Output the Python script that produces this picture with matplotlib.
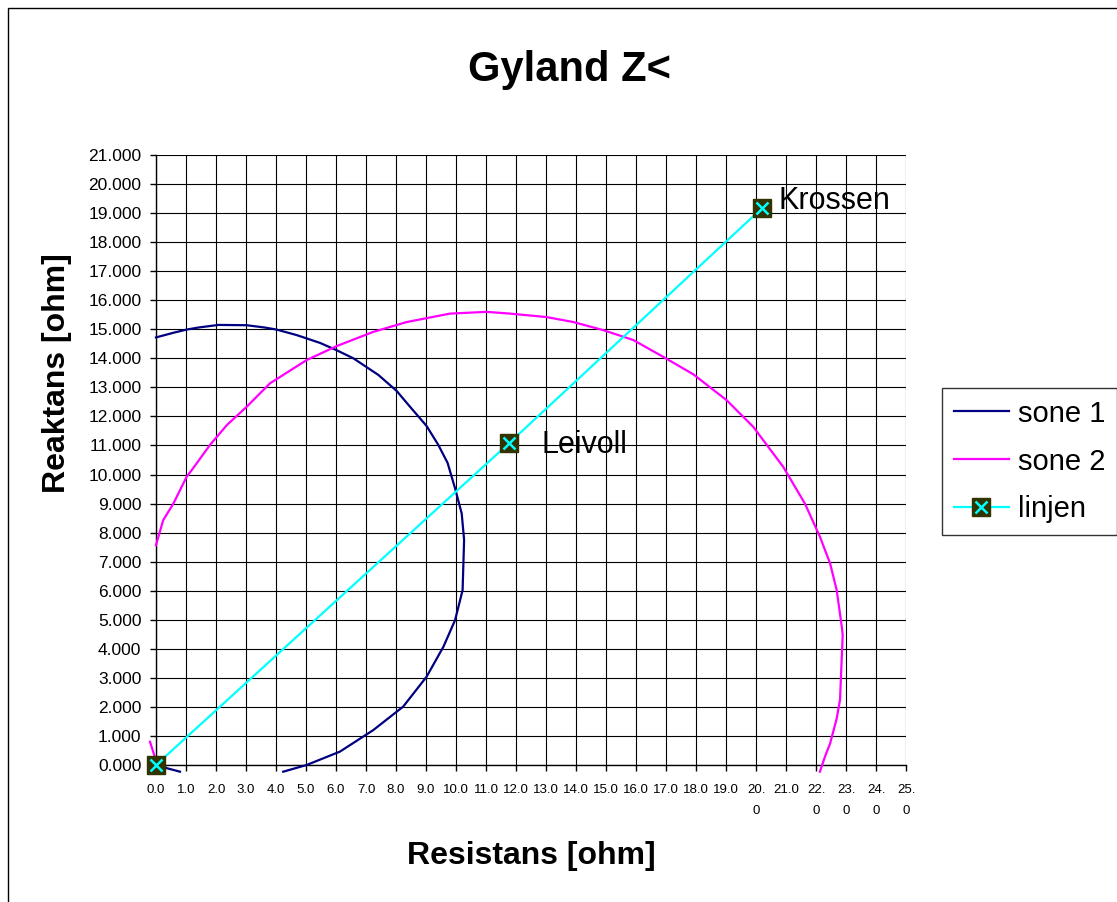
import numpy as np
import matplotlib
matplotlib.use("Agg")
import matplotlib.pyplot as plt
from matplotlib.patches import Rectangle

plt.rcParams['font.family'] = ['Liberation Sans', 'DejaVu Sans']

# ---------------- data ----------------
nan = np.nan
sone1_x = [0.0, 0.58, 1.02, 1.41, 2.08, 3.02, 3.63, 4.02, 4.69, 5.47, 6.02, 6.58,
           7.41, 8.02, 8.47, 9.02, 9.41, 9.72, 9.97, 10.19, 10.27, 10.22, 9.97,
           9.58, 9.02, 8.24, 7.24, 6.13, 5.02, 4.24, nan, 0.0, 0.36, 0.8]
sone1_y = [14.72, 14.88, 14.99, 15.06, 15.15, 15.14, 15.06, 14.99, 14.80, 14.53,
           14.28, 14.0, 13.43, 12.88, 12.33, 11.67, 11.02, 10.4, 9.52, 8.66, 7.75,
           6.02, 4.99, 4.07, 3.04, 2.01, 1.20, 0.46, 0.0, -0.23, nan, 0.12, -0.11, -0.23]

sone2_x = [0.0, 0.24, 0.58, 1.02, 1.19, 1.8, 2.36, 3.02, 3.8, 5.02, 6.02, 7.24,
           8.36, 9.8, 11.02, 11.8, 13.02, 13.91, 14.91, 15.91, 16.91, 17.91, 19.02,
           19.91, 20.91, 21.63, 22.13, 22.47, 22.69, 22.86, 22.89, 22.8, 22.69,
           22.47, 22.3, 22.13, nan, -0.2, 0.0]
sone2_y = [7.57, 8.43, 9.0, 9.92, 10.15, 11.02, 11.70, 12.33, 13.14, 13.94, 14.42,
           14.91, 15.25, 15.54, 15.60, 15.54, 15.42, 15.25, 14.97, 14.63, 14.05,
           13.45, 12.56, 11.64, 10.26, 9.0, 7.86, 6.94, 6.02, 4.76, 4.47, 2.24,
           1.60, 0.74, 0.29, -0.23, nan, 0.8, 0.15]

linjen_x = [0.0, 11.77, 20.2]
linjen_y = [0.0, 11.08, 19.17]
linjen_names = ["", "Leivoll", "Krossen"]

x_ticks = list(range(0, 26))
x_tick_labels = ["%.1f" % v for v in x_ticks]
for v in (20, 22, 23, 24, 25):
    x_tick_labels[v] = "%d.\n0" % v
y_ticks = list(range(0, 22))
y_tick_labels = ["%.3f" % v for v in y_ticks]

series_names = ["sone 1", "sone 2", "linjen"]
colors = ["#000080", "#FF00FF", "#00FFFF"]

# ---------------- figure ----------------
W, H = 1117, 902
fig = plt.figure(figsize=(W / 100, H / 100), dpi=100)
fig.patch.set_facecolor("white")

# outer chart border (extends beyond the canvas on right/bottom)
fig.patches.append(Rectangle((8 / W, -0.05), 1.2, 1 - 8 / H + 0.05,
                             transform=fig.transFigure, fill=False,
                             edgecolor="black", linewidth=1.0, zorder=0))

ax = fig.add_axes([156 / W, (H - 765) / H, 750 / W, 610 / H])
ax.set_xlim(0, 25)
ax.set_ylim(0, 21)

ax.set_xticks(x_ticks)
ax.set_xticklabels(x_tick_labels, fontsize=9.5, linespacing=1.95, va="top")
ax.set_yticks(y_ticks)
ax.set_yticklabels(y_tick_labels, fontsize=12.5)
ax.tick_params(axis="x", direction="out", length=4, width=1, pad=10, colors="black")
ax.tick_params(axis="y", direction="out", length=4.5, width=1, pad=6, colors="black")
ax.grid(True, color="black", linewidth=0.8)
ax.set_axisbelow(True)
for s in ("top", "right"):
    ax.spines[s].set_visible(False)
for s in ("left", "bottom"):
    ax.spines[s].set_linewidth(1.0)
    ax.spines[s].set_color("black")

l1, = ax.plot(sone1_x, sone1_y, color=colors[0], lw=1.6, clip_on=False, zorder=3)
l2, = ax.plot(sone2_x, sone2_y, color=colors[1], lw=1.6, clip_on=False, zorder=3)
l3, = ax.plot(linjen_x, linjen_y, color=colors[2], lw=1.6, marker="s",
              markersize=13.5, markerfacecolor="#333300", markeredgecolor="#333300",
              clip_on=False, zorder=4)
lx, = ax.plot(linjen_x, linjen_y, linestyle="none", marker="x", markersize=9,
              markeredgewidth=1.8, color=colors[2], clip_on=False, zorder=5)

offsets = [(0, 0), (23, -1), (12, 5)]
for xv, yv, name, off in zip(linjen_x, linjen_y, linjen_names, offsets):
    if name:
        ax.annotate(name, (xv, yv), xytext=off, textcoords="offset points",
                    ha="left", va="center", fontsize=22, color="black")

ax.set_xlabel("Resistans [ohm]", fontsize=23, fontweight="bold", va="center")
ax.xaxis.set_label_coords(0.5, (765 - 856) / 610)
ax.set_ylabel("Reaktans [ohm]", fontsize=23, fontweight="bold", va="center")
ax.yaxis.set_label_coords((57 - 156) / 750, (765 - 373) / 610)

fig.text(570 / W, 1 - 70 / H, "Gyland Z<", ha="center", va="center",
         fontsize=30, fontweight="bold")

leg = fig.legend([l1, l2, (l3, lx)], series_names, loc="upper left",
                 bbox_to_anchor=(942 / W, 1 - 388 / H), fontsize=21,
                 frameon=True, fancybox=False, edgecolor="black",
                 borderpad=0.4, handlelength=1.9, handletextpad=0.3,
                 labelspacing=0.68, borderaxespad=0)
leg.get_frame().set_linewidth(1.0)

fig.savefig("out.png", dpi=100, facecolor="white")
